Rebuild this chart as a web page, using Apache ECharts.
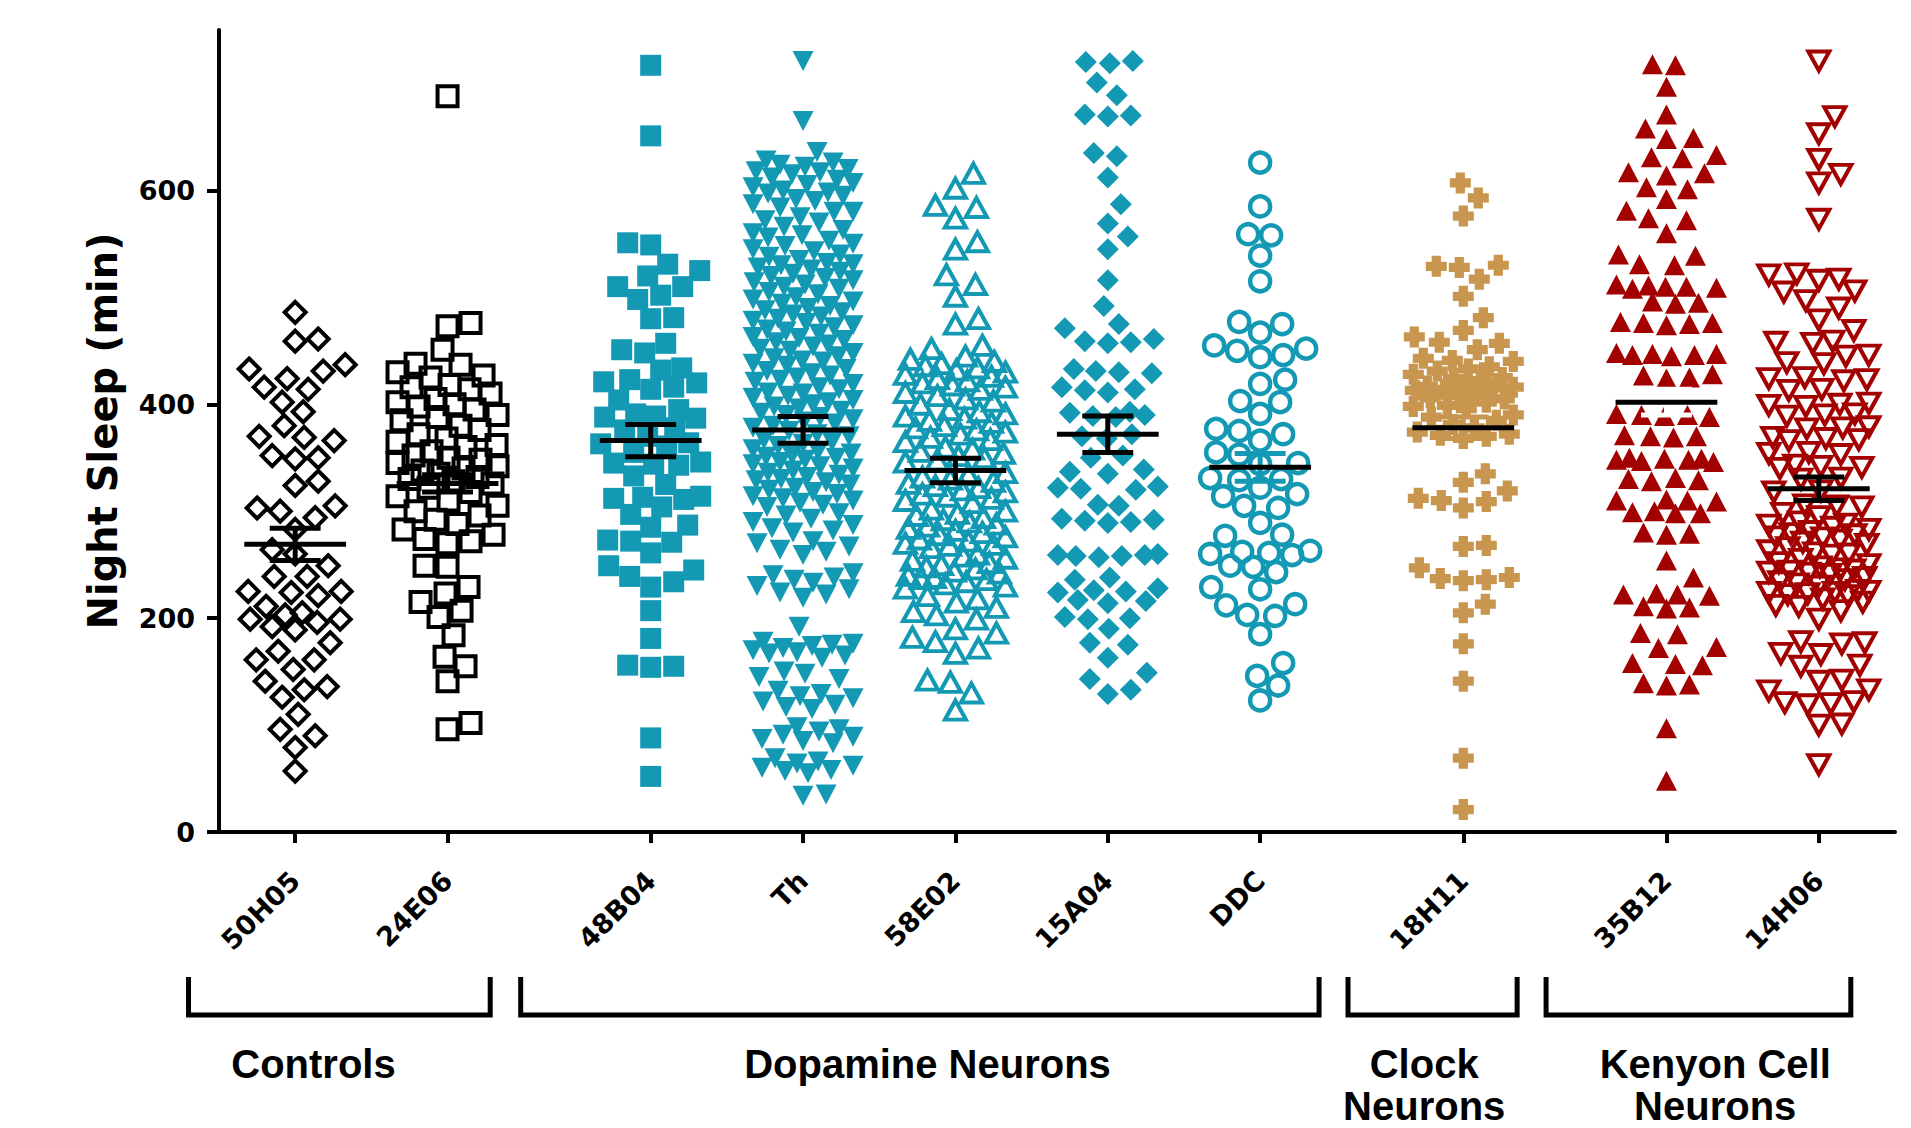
<!DOCTYPE html>
<html><head><meta charset="utf-8">
<script src="https://cdn.jsdelivr.net/npm/echarts@6/dist/echarts.min.js"></script>
<style>html,body{margin:0;padding:0;background:#fff}#c{width:1911px;height:1128px}</style>
</head><body><div id="c"></div>
<script>
// ---------- data ----------
const categories = ['50H05','24E06','48B04','Th','58E02','15A04','DDC','18H11','35B12','14H06'];
const categoryGroup = [0,0,1,1,1,1,1,2,3,3];
const groupNames = ['Controls','Dopamine Neurons','Clock\nNeurons','Kenyon Cell\nNeurons'];
const yTicks = [0,200,400,600];
const yAxisTitle = 'Night Sleep (min)';
const meanValues = [269, 326, 366, 376, 338, 372, 341, 378, 402, 321];
const semValues  = [15, 8, 15, 12.5, 11.5, 17, 13, 10, 12, 11];

const v50H05 = [486,461,459,437,433,431,424,416,414,402,393,380,370,369,366,352,350,349,328,324,305,303,300,294,283,264,260,249,239,239,225,225,224,221,211,205,203,199,199,196,192,189,177,169,161,161,152,141,136,133,126,110,96,90,79,57];
const v24E06 = [688,476,473,451,438,437,430,427,425,418,416,414,410,405,402,400,398,395,390,388,385,380,376,372,368,365,362,360,356,352,350,348,345,342,340,338,335,332,330,328,326,322,318,314,310,305,300,296,292,288,283,278,274,272,270,249,248,229,223,215,207,201,184,164,155,141,102,96];
const v48B04 = [717,651,551,549,531,525,520,510,510,502,498,481,480,457,451,448,434,432,423,421,420,416,414,404,395,391,389,388,387,378,376,370,364,363,361,355,346,345,344,343,333,325,314,313,312,311,304,297,287,285,273,272,271,261,249,245,239,234,229,207,181,156,155,154,88,52];
const vTh = [721,665,636,628,626,624,622,620,618,617,615,612,610,607,605,603,600,598,597,595,592,590,587,584,580,580,575,572,570,566,563,560,558,556,553,550,548,545,543,540,538,535,532,531,530,528,526,524,522,520,518,516,514,512,510,508,505,503,500,498,496,494,492,490,488,486,484,482,480,478,476,474,472,470,468,466,463,462,460,458,456,454,452,450,448,445,443,441,440,438,436,433,431,429,427,425,423,421,419,416,414,411,410,408,406,404,402,400,398,396,394,392,390,388,386,384,382,380,378,375,372,370,367,365,363,361,358,356,354,352,351,350,348,346,344,342,340,338,336,334,332,330,329,327,325,322,320,318,316,314,312,310,308,306,304,298,296,293,290,287,284,282,280,272,270,267,264,262,259,242,240,238,236,233,230,227,224,222,219,192,178,176,175,174,172,170,168,167,165,163,150,148,145,143,132,129,127,125,122,119,117,115,98,96,94,91,89,87,85,83,69,66,64,62,60,58,57,55,35,34];
const v58E02 = [616,602,586,584,574,552,545,521,512,501,480,475,455,452,445,442,440,438,436,434,432,430,428,426,424,422,420,418,416,414,411,408,405,403,400,395,393,391,389,387,385,383,380,378,376,374,372,369,367,365,360,358,356,354,352,350,348,346,336,334,332,330,328,326,324,322,320,318,316,314,312,310,308,302,300,298,296,294,292,290,288,286,284,282,280,278,276,274,272,270,269,268,266,260,258,256,254,252,250,248,246,244,242,240,238,237,236,234,232,230,228,221,218,215,210,206,203,199,190,186,182,178,172,167,142,140,130,114];
const v15A04 = [721,720,719,701,689,671,670,669,635,632,612,587,569,557,545,516,492,475,471,461,459,458,457,433,431,430,429,416,414,413,411,393,392,390,389,388,372,370,368,352,350,339,337,335,323,322,321,320,306,305,293,292,291,290,289,260,259,259,258,258,257,238,236,228,226,225,224,217,216,214,201,200,199,190,177,175,163,149,143,133,129];
const vDDC = [626,585,559,558,539,515,477,475,467,455,452,450,446,444,423,419,403,402,391,377,375,372,366,355,353,345,344,331,330,329,322,316,314,305,303,289,278,277,263,262,261,260,259,249,248,243,229,227,213,212,203,202,185,158,146,137,123];
const v18H11 = [607,593,576,530,529,528,517,501,481,469,463,458,457,451,443,441,440,435,433,431,428,425,424,422,418,417,416,415,414,413,410,408,406,405,402,399,398,396,390,388,385,381,378,374,372,371,370,368,335,327,319,312,310,309,303,268,267,247,238,237,236,235,213,205,176,141,69,21];
const v35B12 = [718,717,697,671,658,649,648,633,631,630,617,616,614,603,601,592,581,574,572,560,540,539,531,530,512,511,510,510,509,508,496,495,494,477,476,476,475,474,448,447,447,446,446,445,428,427,425,424,391,390,390,389,388,371,370,370,369,350,349,349,348,348,347,346,331,330,329,328,311,310,310,309,300,299,298,298,280,279,278,254,238,223,222,222,221,211,210,209,186,185,173,172,158,157,156,139,138,137,97,48];
const v14H06 = [721,669,653,629,615,607,573,522,521,517,516,506,505,497,490,479,469,459,458,457,446,445,439,438,425,424,423,422,414,413,401,400,399,398,391,390,389,379,378,377,369,368,367,366,355,354,353,343,342,341,340,331,330,319,318,306,305,304,298,295,290,288,287,285,283,281,279,278,276,275,273,271,269,266,263,261,260,259,255,252,250,248,246,245,244,243,242,241,238,236,234,232,230,226,225,224,224,223,222,221,218,215,212,211,207,199,178,177,176,167,166,156,155,142,141,133,132,122,121,120,119,101,100,63];
const seriesValues = [v50H05, v24E06, v48B04, vTh, v58E02, v15A04, vDDC, v18H11, v35B12, v14H06];

// ---------- styles / layout ----------
const TEAL = '#1399B3', RED = '#A30000', GOLD = '#C8964F', BLK = '#000000';
const CROSS = 'path://M28,0H72V28H100V72H72V100H28V72H0V28H28Z';
const markerStyles = [
  {symbol:'diamond', size:21, fill:'transparent', stroke:BLK, bw:4},
  {symbol:'rect', size:20, fill:'transparent', stroke:BLK, bw:4},
  {symbol:'rect', size:21, fill:TEAL},
  {symbol:'triangle', size:[21,20], rotate:180, fill:TEAL},
  {symbol:'triangle', size:[21,19], fill:'transparent', stroke:TEAL, bw:4},
  {symbol:'diamond', size:22, fill:TEAL},
  {symbol:'circle', size:20, fill:'transparent', stroke:TEAL, bw:4.5},
  {symbol:CROSS, size:21, fill:GOLD},
  {symbol:'triangle', size:[21,20], fill:RED},
  {symbol:'triangle', size:[21,19], rotate:180, fill:'transparent', stroke:RED, bw:4}
];
const errColors = [BLK,BLK,BLK,BLK,BLK,BLK,TEAL,GOLD,'#ffffff',BLK];
const bracketRange = [[-0.70,1.28],[1.48,6.72],[6.91,8.02],[8.21,10.21]];
const groupLabelX = [0.12,4.15,7.41,9.32];
const TICK_FONT = '"DejaVu Sans", sans-serif';
const LABEL_FONT = '"Liberation Sans", Arial, sans-serif';

// category x positions: unit spacing inside a group, 4/3 between groups
const positions = categories.map((c,i)=> i + categoryGroup[i]/3);

const chart = echarts.init(document.getElementById('c'), null, {renderer:'svg', width:1911, height:1128});

const baseOption = {
  animation:false,
  backgroundColor:'#ffffff',
  grid:{left:219, right:16, top:30, bottom:296},
  xAxis:{
    type:'value', min:-0.5, max:10.5,
    splitLine:{show:false},
    axisLine:{show:true, onZero:false, lineStyle:{color:BLK, width:4}},
    axisTick:{show:true, customValues:positions, length:11, lineStyle:{color:BLK, width:4}},
    axisLabel:{
      customValues:positions, rotate:45, margin:44,
      fontFamily:TICK_FONT, fontWeight:'bold', fontSize:27, color:BLK,
      formatter:(v)=>{let b=0,d=1e9;positions.forEach((p,i)=>{if(Math.abs(p-v)<d){d=Math.abs(p-v);b=i;}});return categories[b];}
    }
  },
  yAxis:{
    type:'value', min:0, max:750,
    name:yAxisTitle, nameLocation:'middle', nameGap:96, nameRotate:90,
    nameTextStyle:{fontFamily:TICK_FONT, fontWeight:'bold', fontSize:40, color:BLK},
    splitLine:{show:false},
    axisLine:{show:true, onZero:false, lineStyle:{color:BLK, width:4}},
    axisTick:{show:true, customValues:yTicks, length:12, lineStyle:{color:BLK, width:4}},
    axisLabel:{customValues:yTicks, margin:24, fontFamily:TICK_FONT, fontWeight:'bold', fontSize:27, color:BLK}
  },
  series:[]
};
chart.setOption(baseOption);

const p00 = chart.convertToPixel({gridIndex:0},[0,0]);
const p11 = chart.convertToPixel({gridIndex:0},[1,100]);
const pxPerX = p11[0]-p00[0];
const pxPerY = (p00[1]-p11[1])/100;

function swarm(values, d, cap, step){
  const order = values.map((v,i)=>i).sort((a,b)=>values[a]-values[b]);
  const placed = [];
  const offs = new Array(values.length).fill(0);
  const cands = [0];
  for(let k=step;k<=cap;k+=step){cands.push(k,-k);}
  for(const i of order){
    const y = values[i]*pxPerY;
    const near = placed.filter(p=>Math.abs(p.y-y)<d);
    let best=0, bestScore=-Infinity;
    for(const c of cands){
      let minD=Infinity;
      for(const p of near){const dd=Math.hypot(p.x-c,p.y-y); if(dd<minD)minD=dd;}
      if(minD>=d){best=c;break;}
      if(minD>bestScore){bestScore=minD;best=c;}
    }
    offs[i]=best; placed.push({x:best,y:y});
  }
  return offs;
}

const series = [];
seriesValues.forEach((vals,ci)=>{
  const st = markerStyles[ci];
  const offs = swarm(vals, 23, 50, 1);
  series.push({
    type:'scatter', name:categories[ci], silent:true, z:2,
    symbol:st.symbol, symbolSize:st.size, symbolRotate:st.rotate||0,
    itemStyle:{color:st.fill, borderColor:st.stroke||st.fill, borderWidth:st.bw||0, opacity:1},
    data: vals.map((v,k)=>[positions[ci]+offs[k]/pxPerX, v])
  });
});

series.push({
  type:'custom', z:10, silent:true,
  data: categories.map((c,i)=>[positions[i], meanValues[i], semValues[i], i]),
  renderItem:(params, api)=>{
    const x=api.value(0), m=api.value(1), s=api.value(2), idx=api.value(3);
    const c=api.coord([x,m]), t=api.coord([x,m+s]), b=api.coord([x,m-s]);
    const hw=api.size([0.334,0])[0], cw=api.size([0.167,0])[0];
    const ec=errColors[idx];
    const ls={stroke:ec, lineWidth:5};
    return {type:'group', children:[
      {type:'line', shape:{x1:c[0],y1:t[1],x2:c[0],y2:b[1]}, style:ls},
      {type:'line', shape:{x1:c[0]-cw,y1:t[1],x2:c[0]+cw,y2:t[1]}, style:ls},
      {type:'line', shape:{x1:c[0]-cw,y1:b[1],x2:c[0]+cw,y2:b[1]}, style:ls},
      {type:'line', shape:{x1:c[0]-hw,y1:c[1],x2:c[0]+hw,y2:c[1]}, style:{stroke:BLK, lineWidth:5}}
    ]};
  }
});

const graphics = [];
bracketRange.forEach((r,gi)=>{
  const x1 = chart.convertToPixel({gridIndex:0},[r[0],0])[0];
  const x2 = chart.convertToPixel({gridIndex:0},[r[1],0])[0];
  graphics.push({type:'polyline', silent:true,
    shape:{points:[[x1,977],[x1,1015],[x2,1015],[x2,977]]},
    style:{stroke:BLK, lineWidth:5, fill:null}});
  const tx = chart.convertToPixel({gridIndex:0},[groupLabelX[gi],0])[0];
  graphics.push({type:'text', silent:true, x:tx, y:1043,
    style:{text:groupNames[gi], align:'center', verticalAlign:'top',
      font:'bold 40px '+LABEL_FONT, lineHeight:42, fill:BLK}});
});

chart.setOption({series:series, graphic:graphics});
</script>
</body></html>
